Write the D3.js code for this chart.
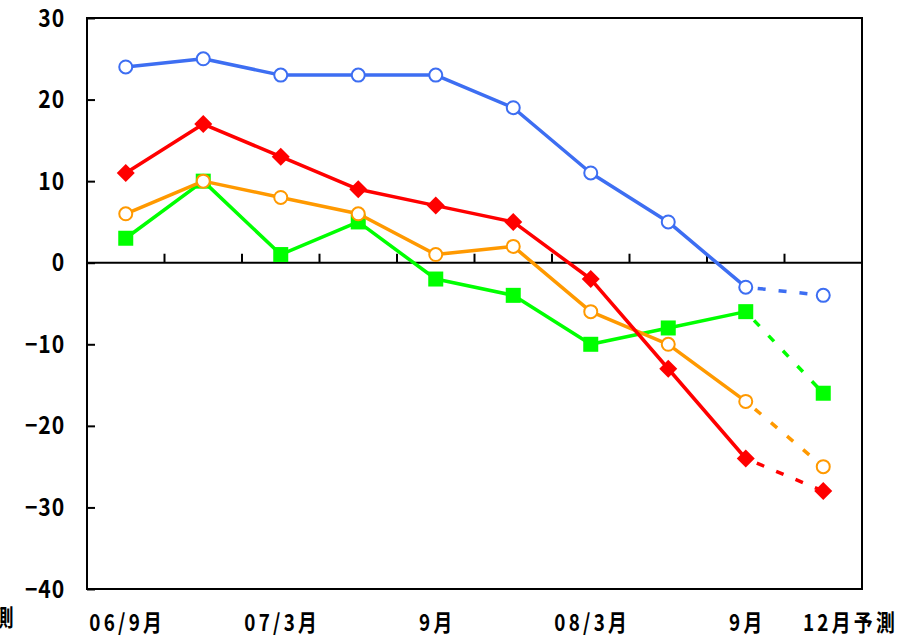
<!DOCTYPE html>
<html><head><meta charset="utf-8">
<script src="https://cdn.jsdelivr.net/npm/d3@7"></script>
<style>body{margin:0;background:#fff}svg{display:block}</style>
</head><body><svg id="c" width="914" height="639"></svg>
<script>
const categories = ["06/9月","06/12月","07/3月","07/6月","9月","07/12月","08/3月","08/6月","9月","12月予測"];
const xLabels = ["06/9月","","07/3月","","9月","","08/3月","","9月","12月予測"];
const blue   = [24, 25, 23, 23, 23, 19, 11, 5, -3, -4];
const red    = [11, 17, 13, 9, 7, 5, -2, -13, -24, -28];
const orange = [6, 10, 8, 6, 1, 2, -6, -10, -17, -25];
const green  = [3, 10, 1, 5, -2, -4, -10, -8, -6, -16];
const yTicks = [30, 20, 10, 0, -10, -20, -30, -40];

const svg = d3.select("#c");
const L = 87, R = 862, T = 18, B = 589;
const x = d3.scaleBand().domain(d3.range(categories.length)).range([L, R]);
const y = d3.scaleLinear().domain([-40, 30]).range([B, T]);
const cx = i => x(i) + x.bandwidth() / 2;
const font = "'Noto Sans CJK JP','DejaVu Sans',sans-serif";

// frame
svg.append("rect").attr("x", L).attr("y", T).attr("width", R - L).attr("height", B - T)
  .attr("fill", "none").attr("stroke", "#000").attr("stroke-width", 2);

// y axis ticks
const yAxis = d3.axisLeft(y).tickValues(yTicks).tickSize(-8).tickFormat("");
const ga = svg.append("g").attr("transform", `translate(${L},0)`).call(yAxis);
ga.select(".domain").remove();
ga.selectAll("line").attr("stroke", "#000").attr("stroke-width", 2);
// y labels (condensed)
svg.append("g").selectAll("text").data(yTicks).join("text")
  .attr("transform", d => `translate(65,${y(d) + 8.5}) scale(0.88,1)`)
  .attr("text-anchor", "end").attr("font-family", font).attr("font-weight", "bold")
  .attr("font-size", 24).attr("letter-spacing", 1)
  .text(d => d < 0 ? "\u2212" + Math.abs(d) : d);

// zero line with ticks pointing up
const y0 = y(0);
svg.append("line").attr("x1", L).attr("x2", R).attr("y1", y0).attr("y2", y0)
  .attr("stroke", "#000").attr("stroke-width", 2);
svg.append("g").selectAll("line").data(d3.range(1, categories.length)).join("line")
  .attr("x1", i => x(i)).attr("x2", i => x(i)).attr("y1", y0).attr("y2", y0 - 9)
  .attr("stroke", "#000").attr("stroke-width", 2);

// x labels (condensed)
svg.append("g").selectAll("text").data(xLabels).join("text")
  .attr("transform", (d, i) => `translate(${(i === 9 ? 849 : cx(i)) + 1.5},631) scale(0.82,1)`)
  .attr("text-anchor", "middle").attr("font-family", font).attr("font-weight", "bold")
  .attr("font-size", 23).attr("letter-spacing", 4).text(d => d);
svg.append("text").attr("transform", "translate(17,626) scale(0.82,1)").attr("text-anchor", "end")
  .attr("font-family", font).attr("font-weight", "bold").attr("font-size", 23)
  .attr("letter-spacing", 4).text("予測");

const line = d3.line().x(d => cx(d.i)).y(d => y(d.v));
function drawSeries(vals, color, shape) {
  const pts = vals.map((v, i) => ({i, v}));
  const g = svg.append("g");
  g.append("path").attr("d", line(pts.slice(0, 9))).attr("fill", "none")
    .attr("stroke", color).attr("stroke-width", 3.5).attr("stroke-linejoin", "round");
  g.append("path").attr("d", line(pts.slice(8, 10))).attr("fill", "none")
    .attr("stroke", color).attr("stroke-width", 3.5).attr("stroke-dasharray", "8,13")
    .attr("stroke-dashoffset", -12);
  const m = g.selectAll(".m").data(pts).join("g")
    .attr("transform", d => `translate(${cx(d.i)},${y(d.v)})`);
  if (shape === "circle") {
    m.append("circle").attr("r", 6.5).attr("fill", "#fff").attr("stroke", color).attr("stroke-width", 2);
  } else if (shape === "square") {
    m.append("rect").attr("x", -7.5).attr("y", -7.5).attr("width", 15).attr("height", 15).attr("fill", color);
  } else {
    m.append("path").attr("d", "M0,-9L9,0L0,9L-9,0Z").attr("fill", color);
  }
}
drawSeries(green, "#00FF00", "square");
drawSeries(orange, "#FF9900", "circle");
drawSeries(red, "#FF0000", "diamond");
drawSeries(blue, "#3D6EF2", "circle");
</script></body></html>
